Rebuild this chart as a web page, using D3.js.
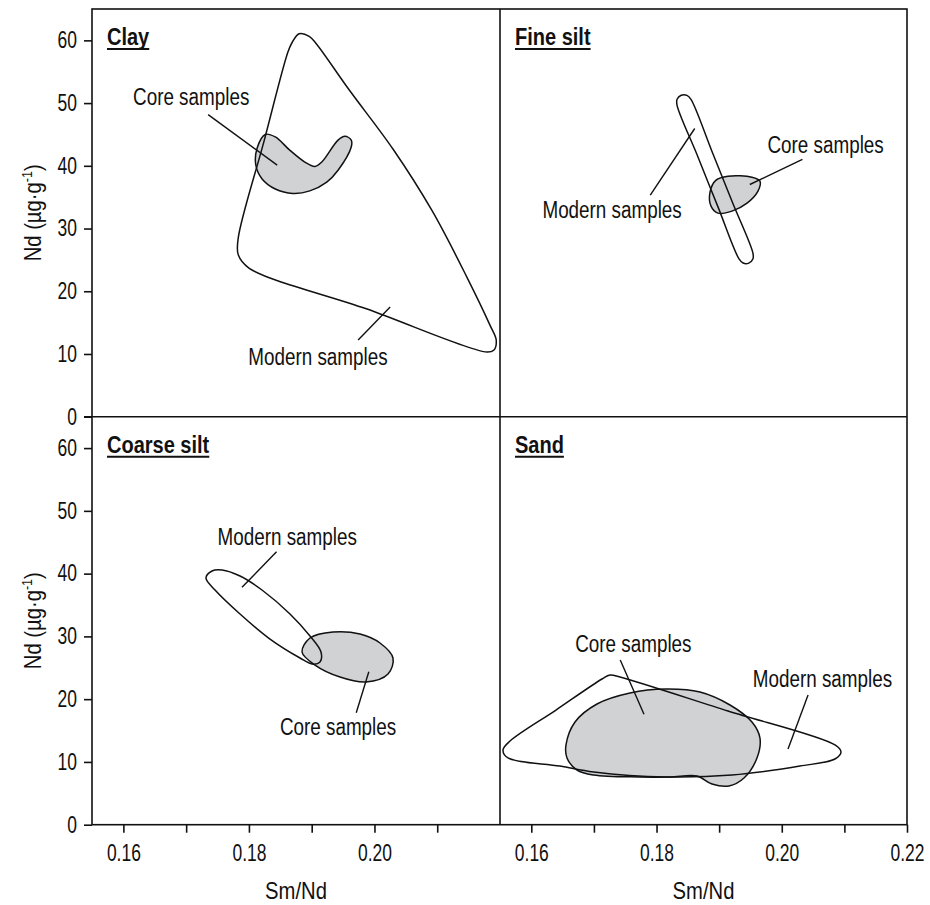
<!DOCTYPE html>
<html>
<head>
<meta charset="utf-8">
<script src="https://cdn.jsdelivr.net/npm/d3@7"></script>
<style>
  body { margin: 0; background: #fff; }
  svg text { font-family: "Liberation Sans", Arial, sans-serif; fill: #111; }
</style>
</head>
<body>
<svg id="chart" width="930" height="905"></svg>
<script>
// Sm/Nd ratio vs Nd concentration fields, [Sm/Nd, Nd µg/g]
const clayModern = [
  [0.1862, 58.1], [0.1869, 59.7], [0.1880, 61.05], [0.1896, 60.65], [0.1907, 59.5],
  [0.1959, 52.2], [0.2030, 42.6], [0.2092, 32.8], [0.2147, 22.3], [0.2184, 14.6],
  [0.2194, 12.2], [0.2190, 10.6], [0.2179, 10.3], [0.1987, 17.2], [0.1800, 23.7],
  [0.1783, 25.8], [0.1783, 28.5], [0.1824, 43.9]
];
const clayCore = [
  [0.1826, 45.0], [0.1842, 44.6], [0.1865, 42.5], [0.1889, 40.6], [0.1905, 39.9],
  [0.1916, 40.6], [0.1942, 44.1], [0.1953, 44.7], [0.1963, 44.1], [0.1963, 43.0],
  [0.1942, 39.3], [0.1924, 37.4], [0.1897, 36.0], [0.1870, 35.6], [0.1842, 36.3],
  [0.1821, 37.9], [0.1811, 40.1], [0.1813, 42.8]
];
const fineSiltModern = [
  [0.18327, 49.69], [0.18328, 50.60], [0.18394, 51.25], [0.18485, 51.23], [0.18550, 50.58],
  [0.18881, 42.41], [0.19210, 34.22], [0.19540, 26.05], [0.19539, 25.14], [0.19473, 24.49],
  [0.19382, 24.50], [0.19317, 25.16], [0.18986, 33.33], [0.18657, 41.52]
];
const fineSiltCore = [
  [0.18950, 37.71], [0.19141, 38.35], [0.19524, 38.19], [0.19652, 37.55], [0.19620, 35.96],
  [0.19445, 34.04], [0.19205, 32.77], [0.18981, 32.45], [0.18870, 33.57], [0.18854, 35.80]
];
const coarseSiltModern = [
  [0.17316, 39.30], [0.17412, 40.42], [0.17571, 40.58], [0.17858, 39.62], [0.18208, 37.39],
  [0.18654, 33.57], [0.18973, 30.06], [0.19148, 27.51], [0.19132, 25.92], [0.19005, 25.60],
  [0.18814, 26.56], [0.18336, 29.58], [0.17858, 33.57], [0.17460, 37.39]
];
const coarseSiltCore = [
  [0.18846, 27.51], [0.18973, 29.74], [0.19339, 30.70], [0.19770, 30.38], [0.20088, 28.95],
  [0.20295, 26.56], [0.20216, 24.01], [0.19865, 22.73], [0.19451, 23.53], [0.19053, 25.44]
];
const sandModern = [
  [0.15548, 11.90], [0.15660, 13.33], [0.16394, 18.27], [0.17129, 23.21], [0.17257, 23.85],
  [0.17416, 23.53], [0.19141, 18.11], [0.20850, 12.70], [0.20946, 11.58], [0.20850, 10.47],
  [0.20291, 9.35], [0.19205, 7.92], [0.18151, 7.60], [0.16997, 8.40], [0.16458, 9.35],
  [0.15628, 10.63]
];
const sandCore = [
  [0.16554, 12.70], [0.16698, 16.36], [0.17049, 19.23], [0.17576, 20.98], [0.18151, 21.62],
  [0.18694, 21.14], [0.19173, 19.07], [0.19524, 16.36], [0.19652, 13.81], [0.19604, 10.63],
  [0.19397, 7.44], [0.19157, 6.17], [0.18886, 6.48], [0.18646, 7.76], [0.18215, 7.60],
  [0.17736, 7.60], [0.16997, 7.92], [0.16730, 8.71], [0.16570, 10.63]
];

// Annotation labels: text anchor point and leader line, in data units
const clayNotes = [
  { text: "Core samples", at: [0.1708, 49.66], leader: [[0.1735, 48.17], [0.1845, 40.10]] },
  { text: "Modern samples", at: [0.1910, 8.24], leader: [[0.1974, 12.22], [0.2025, 17.48]] }
];
const fineSiltNotes = [
  { text: "Core samples", at: [0.2070, 42.12], leader: [[0.2033, 41.01], [0.1949, 37.02]] },
  { text: "Modern samples", at: [0.1729, 31.61], leader: [[0.1790, 35.32], [0.1861, 45.95]] }
];
const coarseSiltNotes = [
  { text: "Modern samples", at: [0.1861, 44.56], leader: [[0.1844, 43.49], [0.1789, 37.82]] },
  { text: "Core samples", at: [0.1942, 14.29], leader: [[0.1971, 17.84], [0.1991, 24.37]] }
];
const sandNotes = [
  { text: "Core samples", at: [0.1763, 27.56], leader: [[0.1742, 26.24], [0.1780, 17.59]] },
  { text: "Modern samples", at: [0.2065, 21.98], leader: [[0.2042, 20.66], [0.2010, 12.06]] }
];

const xDomain = [0.155, 0.22];
const yDomain = [0, 65];
const yTickValues = [0, 10, 20, 30, 40, 50, 60];
const xTickValuesLeft = [0.16, 0.17, 0.18, 0.19, 0.20, 0.21];
const xTickValuesRight = [0.16, 0.17, 0.18, 0.19, 0.20, 0.21, 0.22];
const xLabeledTicks = [0.16, 0.18, 0.20, 0.22];
const xTitle = "Sm/Nd";

const panels = [
  { name: "Clay", col: 0, row: 0, modern: clayModern, core: clayCore, notes: clayNotes },
  { name: "Fine silt", col: 1, row: 0, modern: fineSiltModern, core: fineSiltCore, notes: fineSiltNotes },
  { name: "Coarse silt", col: 0, row: 1, modern: coarseSiltModern, core: coarseSiltCore, notes: coarseSiltNotes },
  { name: "Sand", col: 1, row: 1, modern: sandModern, core: sandCore, notes: sandNotes }
];

// grid geometry
const colEdges = [92, 500, 907];
const rowEdges = [9, 416.7, 824.7];
const FS = 23;
// horizontal squeeze giving a narrow typeface look
const K_LABEL = 0.82, K_TITLE = 0.87, K_TICK = 0.76, K_AXIS = 0.88;

const svg = d3.select("#chart");
const xScales = [0, 1].map(c => d3.scaleLinear().domain(xDomain).range([colEdges[c], colEdges[c + 1]]));
const yScales = [0, 1].map(r => d3.scaleLinear().domain(yDomain).range([rowEdges[r + 1], rowEdges[r]]));

const area = d3.line().curve(d3.curveCatmullRomClosed.alpha(0.5));

function narrowText(parent, x, y, k, extraTransform = "") {
  return parent.append("text")
    .attr("transform", `translate(${x},${y}) ${extraTransform} scale(${k},1)`)
    .attr("font-size", FS);
}

panels.forEach(p => {
  const x = xScales[p.col], y = yScales[p.row];
  const g = svg.append("g").attr("class", "panel");
  const proj = pts => pts.map(d => [x(d[0]), y(d[1])]);

  g.append("path")
    .attr("d", area(proj(p.core)))
    .attr("fill", "#d1d2d4")
    .attr("stroke", "#111")
    .attr("stroke-width", 1.5);

  g.append("path")
    .attr("d", area(proj(p.modern)))
    .attr("fill", "none")
    .attr("stroke", "#111")
    .attr("stroke-width", 1.5);

  p.notes.forEach(n => {
    g.append("line")
      .attr("x1", x(n.leader[0][0])).attr("y1", y(n.leader[0][1]))
      .attr("x2", x(n.leader[1][0])).attr("y2", y(n.leader[1][1]))
      .attr("stroke", "#111").attr("stroke-width", 1.4);
    narrowText(g, x(n.at[0]), y(n.at[1]), K_LABEL)
      .attr("text-anchor", "middle")
      .text(n.text);
  });

  // panel title, bold and underlined
  const tx = colEdges[p.col] + 15, ty = rowEdges[p.row] + 36;
  const t = narrowText(g, tx, ty, K_TITLE)
    .attr("font-weight", "bold")
    .text(p.name);
  const w = t.node().getComputedTextLength() * K_TITLE;
  g.append("line")
    .attr("x1", tx).attr("x2", tx + w)
    .attr("y1", ty + 4).attr("y2", ty + 4)
    .attr("stroke", "#111").attr("stroke-width", 2);
});

// frame and dividers
const frame = svg.append("g").attr("stroke", "#111").attr("stroke-width", 1.6).attr("fill", "none");
frame.append("rect")
  .attr("x", colEdges[0]).attr("y", rowEdges[0])
  .attr("width", colEdges[2] - colEdges[0]).attr("height", rowEdges[2] - rowEdges[0]);
frame.append("line").attr("x1", colEdges[1]).attr("x2", colEdges[1]).attr("y1", rowEdges[0]).attr("y2", rowEdges[2]);
frame.append("line").attr("x1", colEdges[0] - 8).attr("x2", colEdges[2]).attr("y1", rowEdges[1]).attr("y2", rowEdges[1]);

function styleAxis(sel) {
  sel.select(".domain").remove();
  sel.selectAll(".tick line").attr("stroke", "#111").attr("stroke-width", 1.6);
  sel.selectAll(".tick text").each(function () {
    const t = d3.select(this);
    const tx = +t.attr("x") || 0;
    t.attr("x", tx / K_TICK)
      .attr("transform", `scale(${K_TICK},1)`)
      .attr("font-size", FS).attr("fill", "#111")
      .style("font-family", '"Liberation Sans", Arial, sans-serif');
  });
}

// y axes
[0, 1].forEach(r => {
  svg.append("g")
    .attr("transform", `translate(${colEdges[0]},0)`)
    .call(d3.axisLeft(yScales[r]).tickValues(yTickValues).tickSize(8).tickPadding(7).tickFormat(d3.format("d")))
    .call(styleAxis);

  const cy = (rowEdges[r] + rowEdges[r + 1]) / 2;
  const lab = narrowText(svg, 41, cy, K_AXIS, "rotate(-90)")
    .attr("text-anchor", "middle");
  lab.append("tspan").text("Nd (µg·g");
  lab.append("tspan").attr("font-size", FS * 0.62).attr("dy", -9).text("-1");
  lab.append("tspan").attr("dy", 9).text(")");
});

// x axes
[0, 1].forEach(c => {
  svg.append("g")
    .attr("transform", `translate(0,${rowEdges[2]})`)
    .call(d3.axisBottom(xScales[c])
      .tickValues(c === 0 ? xTickValuesLeft : xTickValuesRight)
      .tickSize(8).tickPadding(12)
      .tickFormat(d => xLabeledTicks.some(v => Math.abs(v - d) < 1e-9) ? d3.format(".2f")(d) : ""))
    .call(styleAxis);

  narrowText(svg, (colEdges[c] + colEdges[c + 1]) / 2, 899, K_AXIS)
    .attr("text-anchor", "middle")
    .text(xTitle);
});
</script>
</body>
</html>
